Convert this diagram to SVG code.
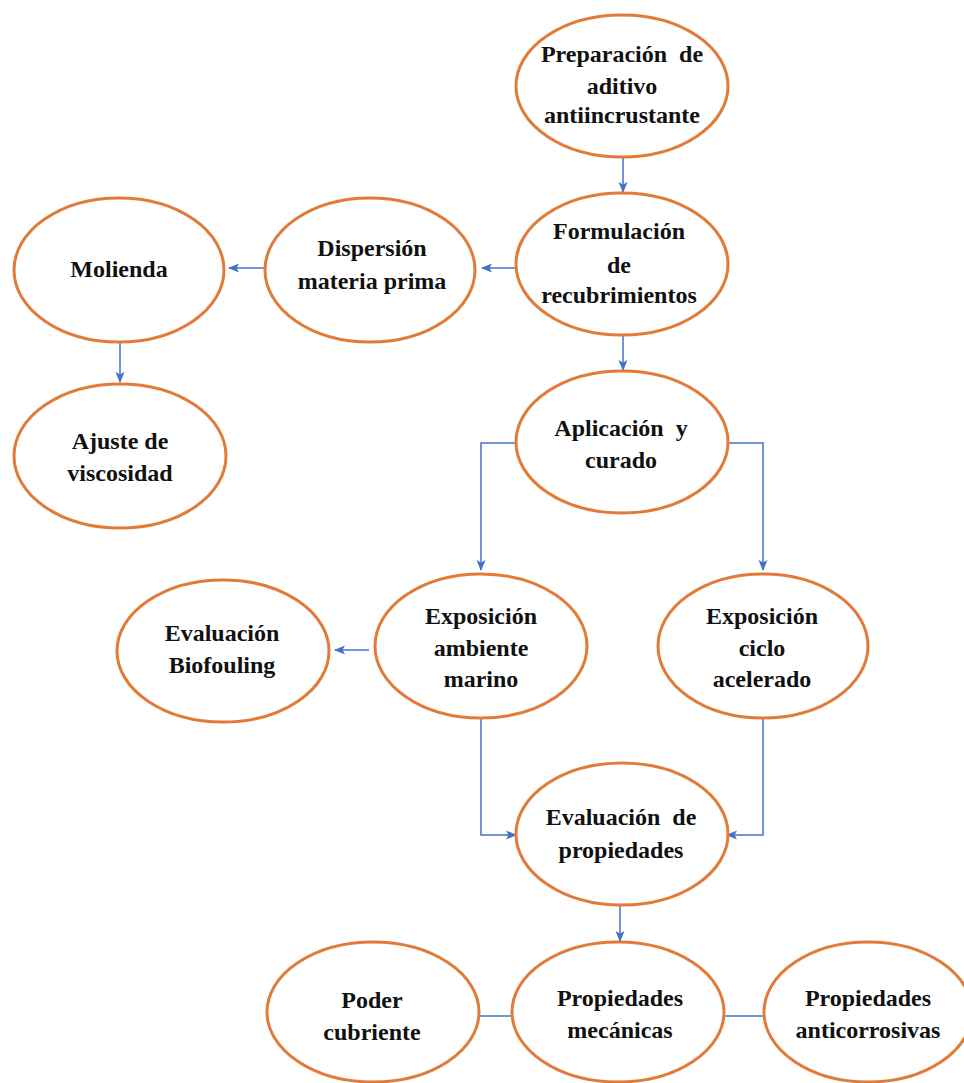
<svg xmlns="http://www.w3.org/2000/svg" width="964" height="1083" viewBox="0 0 964 1083">
<defs>
<marker id="arr" markerWidth="11" markerHeight="10" refX="10" refY="5" orient="auto" markerUnits="userSpaceOnUse">
<path d="M0,0.5 L11,5 L0,9.5 L2.5,5 Z" fill="#4472C4"/>
</marker>
<style>
.n{fill:#fff;stroke:#E07B39;stroke-width:3}
.t{font-family:"Liberation Serif","Times New Roman",serif;font-weight:bold;font-size:24px;fill:#111;text-anchor:middle}
.c{fill:none;stroke:#4472C4;stroke-width:1.5}
.a{marker-end:url(#arr)}
</style>
</defs>
<rect width="964" height="1083" fill="#fff"/>
<g id="connectors">
<path class="c a" d="M623,157 V192"/>
<path class="c a" d="M515,268 H482"/>
<path class="c a" d="M265,268 H229"/>
<path class="c a" d="M120,342 V382"/>
<path class="c a" d="M623,335 V370"/>
<path class="c a" d="M515,443 H481 V570"/>
<path class="c a" d="M728,443 H763 V570"/>
<path class="c a" d="M369,650 H335"/>
<path class="c a" d="M481,718 V835 H516"/>
<path class="c a" d="M763,718 V835 H727"/>
<path class="c a" d="M620,905 V941"/>
<path class="c" d="M478,1016 H512"/>
<path class="c" d="M724,1016 H763"/>
</g>
<g id="n1"><ellipse class="n" cx="622" cy="86" rx="106" ry="71"/>
<text class="t" x="622" y="62">Preparación&#160; de</text><text class="t" x="622" y="94">aditivo</text><text class="t" x="622" y="123">antiincrustante</text></g>
<g id="n2"><ellipse class="n" cx="622" cy="264" rx="106" ry="71"/>
<text class="t" x="619" y="239">Formulación</text><text class="t" x="619" y="273">de</text><text class="t" x="619" y="303">recubrimientos</text></g>
<g id="n3"><ellipse class="n" cx="370" cy="270" rx="105" ry="72"/>
<text class="t" x="372" y="256">Dispersión</text><text class="t" x="372" y="289">materia prima</text></g>
<g id="n4"><ellipse class="n" cx="119" cy="270" rx="105" ry="72"/>
<text class="t" x="119" y="277">Molienda</text></g>
<g id="n5"><ellipse class="n" cx="120" cy="456" rx="106" ry="72"/>
<text class="t" x="120" y="449">Ajuste de</text><text class="t" x="120" y="481">viscosidad</text></g>
<g id="n6"><ellipse class="n" cx="622" cy="442" rx="106" ry="71"/>
<text class="t" x="621" y="436">Aplicación&#160; y</text><text class="t" x="621" y="468">curado</text></g>
<g id="n7"><ellipse class="n" cx="223" cy="651" rx="106" ry="71"/>
<text class="t" x="222" y="641">Evaluación</text><text class="t" x="222" y="673">Biofouling</text></g>
<g id="n8"><ellipse class="n" cx="481" cy="646" rx="106" ry="72"/>
<text class="t" x="481" y="624">Exposición</text><text class="t" x="481" y="656">ambiente</text><text class="t" x="481" y="687">marino</text></g>
<g id="n9"><ellipse class="n" cx="763" cy="646" rx="105" ry="72"/>
<text class="t" x="762" y="624">Exposición</text><text class="t" x="762" y="656">ciclo</text><text class="t" x="762" y="687">acelerado</text></g>
<g id="n10"><ellipse class="n" cx="622" cy="834" rx="106" ry="71"/>
<text class="t" x="621" y="825">Evaluación&#160; de</text><text class="t" x="621" y="858">propiedades</text></g>
<g id="n11"><ellipse class="n" cx="373" cy="1012" rx="106" ry="70"/>
<text class="t" x="372" y="1008">Poder</text><text class="t" x="372" y="1040">cubriente</text></g>
<g id="n12"><ellipse class="n" cx="618" cy="1012" rx="106" ry="70"/>
<text class="t" x="620" y="1006">Propiedades</text><text class="t" x="620" y="1038">mecánicas</text></g>
<g id="n13"><ellipse class="n" cx="868" cy="1012" rx="104" ry="70"/>
<text class="t" x="868" y="1006">Propiedades</text><text class="t" x="868" y="1038">anticorrosivas</text></g>
</svg>
